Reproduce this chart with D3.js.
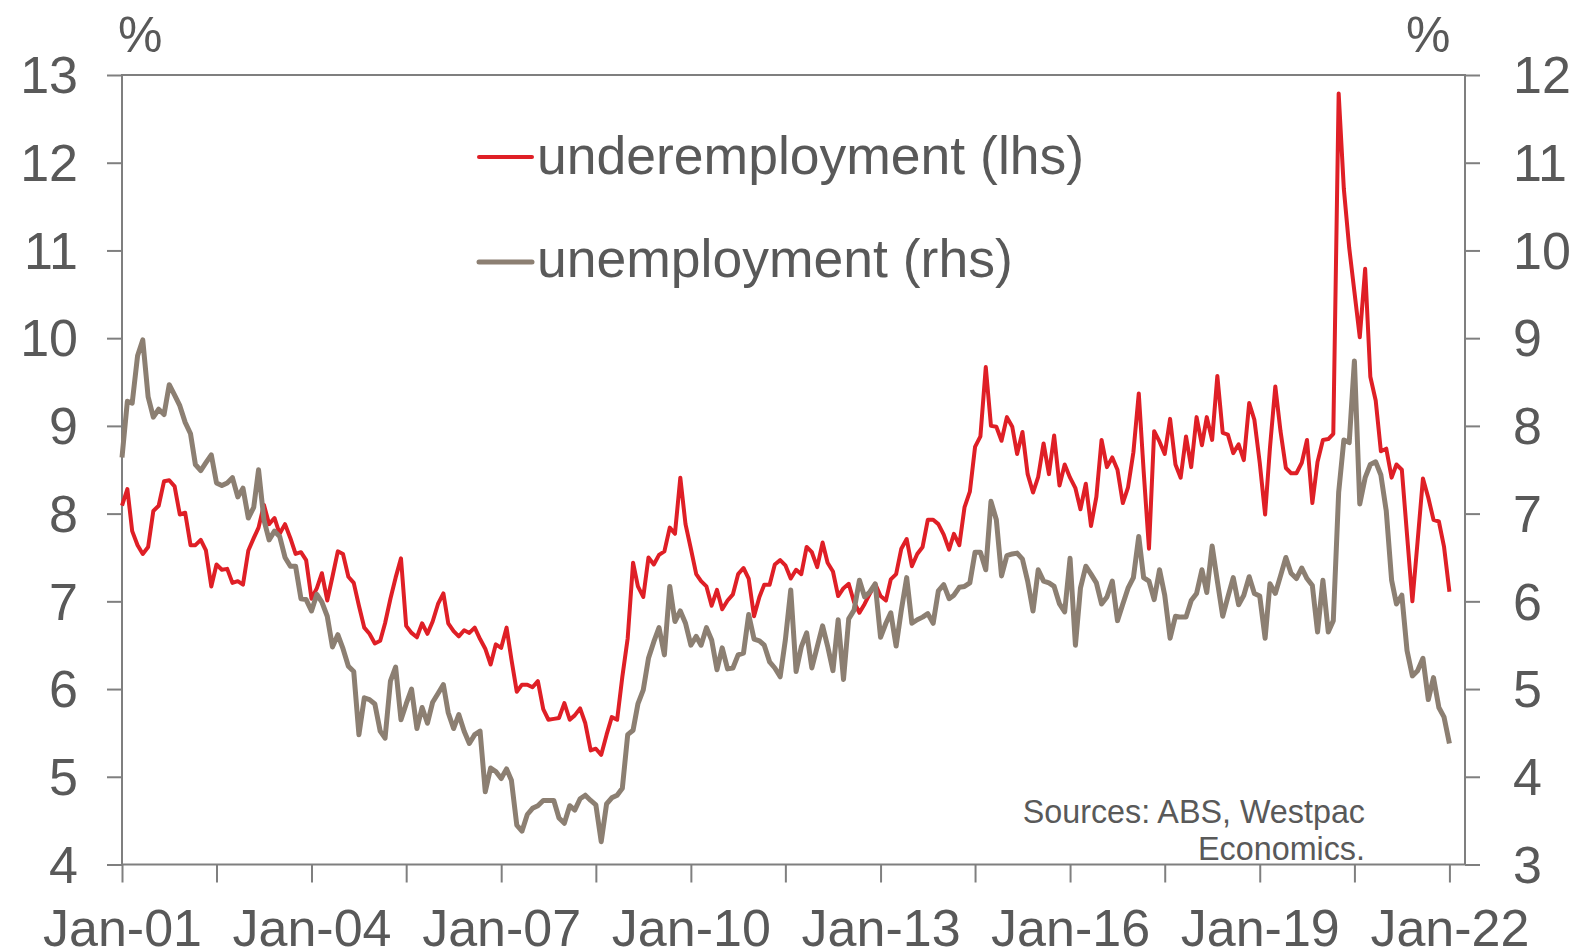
<!DOCTYPE html>
<html>
<head>
<meta charset="utf-8">
<script src="https://cdn.jsdelivr.net/npm/d3@7"></script>
<style>
  html, body { margin: 0; padding: 0; background: #ffffff; }
  svg { display: block; }
  text { font-family: "Liberation Sans", Arial, sans-serif; fill: #595959; }
</style>
</head>
<body>
<svg id="chart" width="1594" height="952"></svg>
<script>
// Monthly series, Jan 2001 – Jan 2022 (per cent)
const startMonth = new Date(2001, 0, 1);

const underemployment = [
  8.09, 8.28, 7.80, 7.64, 7.54, 7.62, 8.03, 8.09, 8.37, 8.38, 8.31, 7.99,
  8.01, 7.64, 7.64, 7.70, 7.58, 7.17, 7.42, 7.36, 7.37, 7.21, 7.23, 7.19,
  7.58, 7.72, 7.84, 8.10, 7.88, 7.95, 7.77, 7.88, 7.72, 7.54, 7.56, 7.47,
  7.03, 7.15, 7.32, 7.01, 7.28, 7.57, 7.54, 7.28, 7.21, 6.95, 6.70, 6.63,
  6.52, 6.55, 6.75, 7.03, 7.27, 7.49, 6.72, 6.64, 6.59, 6.75, 6.63, 6.77,
  6.97, 7.09, 6.75, 6.66, 6.60, 6.67, 6.64, 6.70, 6.57, 6.46, 6.28, 6.51,
  6.47, 6.70, 6.34, 5.97, 6.05, 6.05, 6.02, 6.09, 5.77, 5.65, 5.66, 5.67,
  5.84, 5.65, 5.70, 5.78, 5.61, 5.30, 5.32, 5.25, 5.48, 5.68, 5.65, 6.14,
  6.58, 7.44, 7.17, 7.05, 7.50, 7.42, 7.53, 7.57, 7.84, 7.77, 8.41, 7.88,
  7.60, 7.31, 7.23, 7.17, 6.95, 7.13, 6.91, 7.01, 7.08, 7.31, 7.38, 7.26,
  6.83, 7.05, 7.19, 7.19, 7.42, 7.47, 7.41, 7.26, 7.36, 7.31, 7.62, 7.56,
  7.39, 7.67, 7.44, 7.34, 7.06, 7.15, 7.20, 6.99, 6.87, 6.97, 7.09, 7.20,
  7.06, 7.01, 7.25, 7.31, 7.60, 7.71, 7.40, 7.54, 7.62, 7.93, 7.93, 7.88,
  7.76, 7.59, 7.77, 7.64, 8.07, 8.25, 8.76, 8.88, 9.67, 9.00, 8.99, 8.83,
  9.10, 8.99, 8.68, 8.93, 8.45, 8.24, 8.42, 8.80, 8.45, 8.89, 8.32, 8.56,
  8.41, 8.29, 8.05, 8.34, 7.86, 8.19, 8.84, 8.53, 8.64, 8.50, 8.12, 8.30,
  8.70, 9.37, 8.49, 7.60, 8.94, 8.82, 8.68, 9.08, 8.56, 8.41, 8.88, 8.53,
  9.10, 8.78, 9.10, 8.84, 9.57, 8.92, 8.90, 8.69, 8.79, 8.61, 9.26, 9.07,
  8.58, 7.99, 8.75, 9.45, 8.94, 8.52, 8.46, 8.46, 8.58, 8.84, 8.12, 8.59,
  8.84, 8.85, 8.91, 12.79, 11.70, 11.03, 10.53, 10.01, 10.79, 9.56, 9.29, 8.71,
  8.74, 8.41, 8.56, 8.50, 7.76, 7.00, 7.68, 8.40, 8.18, 7.93, 7.91, 7.62,
  7.11
];

const unemployment = [
  7.64, 8.28, 8.26, 8.80, 8.98, 8.33, 8.10, 8.19, 8.13, 8.47, 8.35, 8.23,
  8.04, 7.91, 7.56, 7.49, 7.58, 7.67, 7.35, 7.32, 7.35, 7.41, 7.19, 7.29,
  6.95, 7.07, 7.50, 6.93, 6.70, 6.80, 6.74, 6.50, 6.40, 6.40, 6.03, 6.02,
  5.89, 6.08, 5.99, 5.83, 5.48, 5.62, 5.46, 5.26, 5.20, 4.48, 4.90, 4.88,
  4.83, 4.52, 4.44, 5.09, 5.25, 4.65, 4.83, 5.00, 4.55, 4.79, 4.61, 4.85,
  4.95, 5.05, 4.73, 4.55, 4.71, 4.52, 4.38, 4.48, 4.52, 3.83, 4.10, 4.06,
  3.98, 4.09, 3.96, 3.45, 3.38, 3.57, 3.64, 3.67, 3.73, 3.73, 3.73, 3.53,
  3.47, 3.67, 3.62, 3.75, 3.79, 3.73, 3.68, 3.26, 3.69, 3.76, 3.79, 3.87,
  4.48, 4.53, 4.83, 4.99, 5.35, 5.54, 5.70, 5.39, 6.17, 5.77, 5.89, 5.75,
  5.50, 5.60, 5.50, 5.70, 5.56, 5.22, 5.47, 5.23, 5.24, 5.39, 5.41, 5.85,
  5.57, 5.55, 5.50, 5.31, 5.24, 5.14, 5.56, 6.13, 5.20, 5.48, 5.64, 5.24,
  5.48, 5.72, 5.49, 5.21, 5.79, 5.11, 5.80, 5.90, 6.24, 6.05, 6.11, 6.20,
  5.59, 5.75, 5.87, 5.49, 5.90, 6.27, 5.75, 5.79, 5.82, 5.86, 5.75, 6.12,
  6.19, 6.03, 6.07, 6.16, 6.17, 6.21, 6.56, 6.56, 6.36, 7.14, 6.93, 6.29,
  6.52, 6.54, 6.55, 6.48, 6.23, 5.89, 6.36, 6.23, 6.21, 6.17, 5.97, 5.88,
  6.49, 5.50, 6.15, 6.40, 6.31, 6.21, 5.97, 6.05, 6.23, 5.78, 5.97, 6.15,
  6.27, 6.74, 6.27, 6.23, 6.02, 6.36, 6.07, 5.58, 5.83, 5.82, 5.82, 6.01,
  6.09, 6.36, 6.10, 6.63, 6.23, 5.83, 6.05, 6.27, 5.96, 6.07, 6.28, 6.09,
  6.06, 5.58, 6.20, 6.09, 6.29, 6.50, 6.32, 6.26, 6.38, 6.26, 6.18, 5.65,
  6.24, 5.65, 5.78, 7.24, 7.84, 7.81, 8.74, 7.11, 7.41, 7.56, 7.59, 7.44,
  7.03, 6.24, 5.97, 6.07, 5.44, 5.15, 5.21, 5.35, 4.88, 5.13, 4.79, 4.68,
  4.38
];

const xTickLabels = ["Jan-01", "Jan-04", "Jan-07", "Jan-10", "Jan-13", "Jan-16", "Jan-19", "Jan-22"];
const leftTicks = [4, 5, 6, 7, 8, 9, 10, 11, 12, 13];
const rightTicks = [3, 4, 5, 6, 7, 8, 9, 10, 11, 12];
const seriesNames = ["underemployment (lhs)", "unemployment (rhs)"];
const sourceLines = ["Sources: ABS, Westpac", "Economics."];

const COLORS = { under: "#DF1F26", unemp: "#8C7F72", axis: "#7f7f7f", text: "#595959" };

const plot = { left: 122, right: 1465, top: 75, bottom: 864.5 };

const svg = d3.select("#chart");

const x = d3.scaleTime()
  .domain([startMonth, d3.timeMonth.offset(startMonth, 255)])
  .range([plot.left, plot.right]);
const yL = d3.scaleLinear().domain([4, 13]).range([plot.bottom, plot.top]);
const yR = d3.scaleLinear().domain([3, 12]).range([plot.bottom, plot.top]);

const monthOf = i => d3.timeMonth.offset(startMonth, i);

// frame
svg.append("rect")
  .attr("x", plot.left).attr("y", plot.top)
  .attr("width", plot.right - plot.left).attr("height", plot.bottom - plot.top)
  .attr("fill", "none").attr("stroke", COLORS.axis).attr("stroke-width", 2);

// x axis: ticks every 18 months, labels every 36
const fmt = d3.timeFormat("%b-%y");
const xTicks = d3.range(0, 253, 18).map(monthOf);
const xAxis = d3.axisBottom(x)
  .tickValues(xTicks)
  .tickSize(18)
  .tickSizeOuter(0)
  .tickFormat(d => xTickLabels.includes(fmt(d)) ? fmt(d) : "");
const gx = svg.append("g").attr("transform", `translate(0,${plot.bottom})`).call(xAxis);
gx.select(".domain").remove();
gx.selectAll(".tick line").attr("stroke", COLORS.axis).attr("stroke-width", 2);
gx.selectAll(".tick text")
  .attr("y", 81).attr("dy", 0)
  .style("font-size", "52px").attr("fill", COLORS.text);

// left axis
const gl = svg.append("g").attr("transform", `translate(${plot.left},0)`)
  .call(d3.axisLeft(yL).tickValues(leftTicks).tickSize(15).tickPadding(29).tickFormat(d3.format("d")));
gl.select(".domain").remove();
gl.selectAll(".tick line").attr("stroke", COLORS.axis).attr("stroke-width", 2);
gl.selectAll(".tick text").style("font-size", "52px").attr("fill", COLORS.text).attr("dy", "0.34em");

// right axis
const gr = svg.append("g").attr("transform", `translate(${plot.right},0)`)
  .call(d3.axisRight(yR).tickValues(rightTicks).tickSize(15).tickPadding(33).tickFormat(d3.format("d")));
gr.select(".domain").remove();
gr.selectAll(".tick line").attr("stroke", COLORS.axis).attr("stroke-width", 2);
gr.selectAll(".tick text").style("font-size", "52px").attr("fill", COLORS.text).attr("dy", "0.34em");

// unit labels
svg.append("text").attr("x", 118).attr("y", 52).style("font-size", "50px").text("%");
svg.append("text").attr("x", 1406).attr("y", 52).style("font-size", "50px").text("%");

// series lines
const lineL = d3.line().x((d, i) => x(monthOf(i))).y(d => yL(d)).curve(d3.curveLinear);
const lineR = d3.line().x((d, i) => x(monthOf(i))).y(d => yR(d)).curve(d3.curveLinear);

svg.append("path").datum(underemployment)
  .attr("d", lineL).attr("fill", "none")
  .attr("stroke", COLORS.under).attr("stroke-width", 4)
  .attr("stroke-linejoin", "round");

svg.append("path").datum(unemployment)
  .attr("d", lineR).attr("fill", "none")
  .attr("stroke", COLORS.unemp).attr("stroke-width", 5)
  .attr("stroke-linejoin", "round");

// legend
const legend = [
  { name: seriesNames[0], color: COLORS.under, width: 4, ly: 157, ty: 174 },
  { name: seriesNames[1], color: COLORS.unemp, width: 5, ly: 262, ty: 277 }
];
const lg = svg.append("g");
lg.selectAll("line").data(legend).join("line")
  .attr("x1", 479).attr("x2", 532)
  .attr("y1", d => d.ly).attr("y2", d => d.ly)
  .attr("stroke", d => d.color).attr("stroke-width", d => d.width)
  .attr("stroke-linecap", "round");
lg.selectAll("text").data(legend).join("text")
  .attr("x", 537).attr("y", d => d.ty)
  .style("font-size", "53.5px").text(d => d.name);

// source note
svg.append("g").selectAll("text").data(sourceLines).join("text")
  .attr("x", 1365).attr("y", (d, i) => 823 + i * 37)
  .attr("text-anchor", "end")
  .style("font-size", "32.3px").attr("fill", "#666666")
  .text(d => d);
</script>
</body>
</html>
